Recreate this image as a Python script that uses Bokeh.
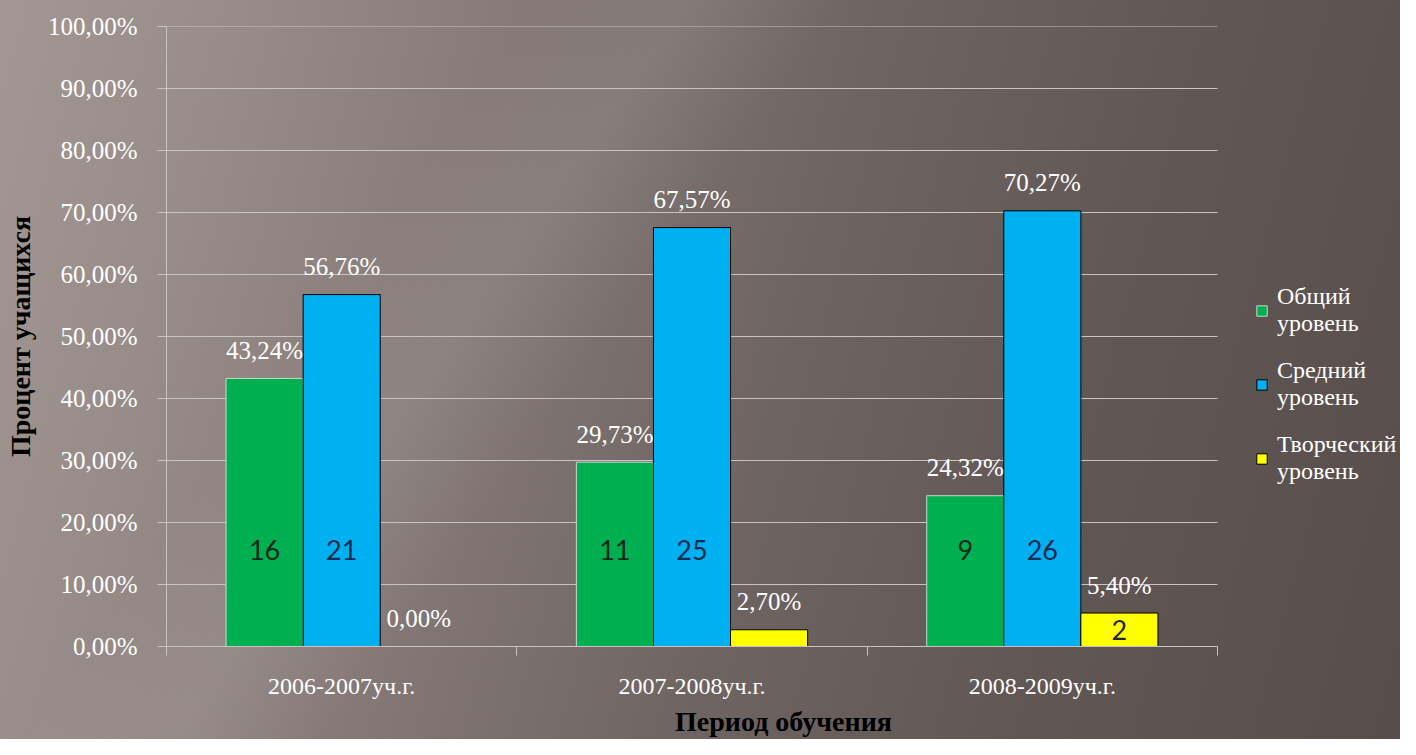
from bokeh.plotting import figure
from bokeh.models import Range1d, FixedTicker, ColumnDataSource, LabelSet, Legend, LegendItem
from bokeh.core.properties import value
from bokeh.embed import file_html
from bokeh.resources import INLINE

# ---- data ----
periods = ["2006-2007уч.г.", "2007-2008уч.г.", "2008-2009уч.г."]
series_names = ["Общий\nуровень", "Средний\nуровень", "Творческий\nуровень"]
general_pct = [43.24, 29.73, 24.32]
medium_pct = [56.76, 67.57, 70.27]
creative_pct = [0.00, 2.70, 5.40]
general_cnt = ["16", "11", "9"]
medium_cnt = ["21", "25", "26"]
creative_cnt = ["", "", "2"]
y_ticks = [0, 10, 20, 30, 40, 50, 60, 70, 80, 90, 100]

# ---- styles / layout ----
colors = ["#00b050", "#00b0f0", "#ffff00"]
outlines = ["#c8d8cc", "#000000", "#000000"]
cnt_colors = ["#10281a", "#112a50", "#262626"]
grid_col = "#c9c4c2"
serif = "Liberation Serif"
bar_w = 0.22
offsets = [-bar_w, 0.0, bar_w]
count_level = 15.5
W, H = 1400, 739
left_px, axis_right_px = 166, 1217
n = len(periods)
x_end = n * (W - left_px) / (axis_right_px - left_px)   # frame extends under legend area

p = figure(width=W, height=H, x_range=Range1d(0, x_end), y_range=Range1d(0, 100),
           output_backend="svg", toolbar_location=None,
           min_border_left=left_px, min_border_right=0, min_border_top=26, min_border_bottom=93,
           background_fill_color=None, border_fill_color=None, outline_line_color=None)
p.styles = {"background":
            "linear-gradient(125deg, rgba(255,255,255,0) 28%, rgba(255,255,255,0.07) 36%, rgba(255,255,255,0) 44%),"
            "linear-gradient(105deg, #a39794 0%, #988c89 15%, #837875 35%, #6e6461 55%, #615754 75%, #574e4b 100%)"}

# horizontal grid lines limited to the category area
p.segment(x0=[0] * len(y_ticks), x1=[n] * len(y_ticks), y0=y_ticks, y1=y_ticks,
          line_color=grid_col, line_width=1, level="underlay")

series = [general_pct, medium_pct, creative_pct]
counts = [general_cnt, medium_cnt, creative_cnt]
renderers = []
for k, vals in enumerate(series):
    xs = [i + 0.5 + offsets[k] for i in range(n)]
    src = ColumnDataSource(dict(
        x=xs, top=vals,
        pct=[f"{v:.2f}%".replace(".", ",") for v in vals],
        cy=[count_level if v > count_level else v / 2 for v in vals],
        cnt=counts[k]))
    r = p.vbar(x="x", top="top", width=bar_w, bottom=0, source=src,
               fill_color=colors[k], line_color=outlines[k], line_width=1)
    renderers.append(r)
    p.add_layout(LabelSet(x="x", y="top", text="pct", source=src, y_offset=28,
                          text_align="center", text_baseline="middle",
                          text_font=value(serif), text_font_size=value("25px"),
                          text_color=value("white")))
    p.add_layout(LabelSet(x="x", y="cy", text="cnt", source=src,
                          text_align="center", text_baseline="middle",
                          text_font=value("Lato"), text_font_size=value("27px"),
                          text_color=value(cnt_colors[k])))

# y axis
yax = p.yaxis[0]
yax.ticker = FixedTicker(ticks=y_ticks, minor_ticks=[])
yax.major_label_overrides = {t: f"{t:.2f}%".replace(".", ",") for t in y_ticks}
yax.major_label_text_font = serif
yax.major_label_text_font_size = "25px"
yax.major_label_text_color = "white"
yax.major_tick_out = 9
yax.major_tick_in = 0
yax.major_tick_line_color = grid_col
yax.axis_line_color = grid_col
yax.major_label_standoff = 20
yax.axis_label = "Процент учащихся"
yax.axis_label_text_font = serif
yax.axis_label_text_font_style = "bold"
yax.axis_label_text_font_size = "28px"
yax.axis_label_text_color = "black"
yax.axis_label_standoff = 9

# x axis
xax = p.xaxis[0]
xax.bounds = (0, n)
xax.ticker = FixedTicker(ticks=[i + 0.5 for i in range(n)], minor_ticks=list(range(n + 1)))
xax.major_label_overrides = {i + 0.5: name for i, name in enumerate(periods)}
xax.major_label_text_font = serif
xax.major_label_text_font_size = "24px"
xax.major_label_text_color = "white"
xax.major_tick_line_color = None
xax.major_tick_out = 0
xax.major_tick_in = 0
xax.minor_tick_out = 9
xax.minor_tick_in = 0
xax.minor_tick_line_color = grid_col
xax.axis_line_color = grid_col
xax.major_label_standoff = 17
xax.axis_label = "Период обучения"
xax.axis_label_text_font = serif
xax.axis_label_text_font_style = "bold"
xax.axis_label_text_font_size = "28px"
xax.axis_label_text_color = "black"
xax.axis_label_standoff = 4

p.xgrid.visible = False
p.ygrid.visible = False

legend = Legend(items=[LegendItem(label=series_names[k], renderers=[renderers[k]]) for k in range(3)],
                location=(1089, 161), orientation="vertical",
                label_text_font=serif, label_text_font_size="24px", label_text_color="white",
                label_text_line_height=1.17,
                glyph_width=13, glyph_height=13, label_standoff=9, spacing=20,
                padding=0, margin=0, background_fill_alpha=0, border_line_color=None)
p.add_layout(legend)

open("out.html", "w").write(file_html(p, INLINE))
